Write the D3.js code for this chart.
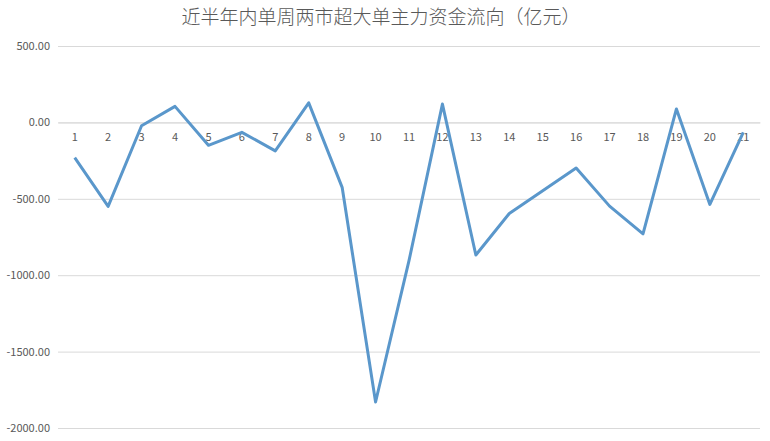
<!DOCTYPE html>
<html>
<head>
<meta charset="utf-8">
<script src="https://cdn.jsdelivr.net/npm/d3@7"></script>
<style>
  body { margin: 0; background: #fff; }
  text { font-family: "Noto Sans CJK SC", "DejaVu Sans", sans-serif; fill: #595959; }
</style>
</head>
<body>
<div id="chart-area"></div>
<script>
// weekly big-order net flow, 100M yuan
const weeks = ['1', '2', '3', '4', '5', '6', '7', '8', '9', '10', '11',
    '12', '13', '14', '15', '16', '17', '18', '19', '20', '21']
const flows = [-230, -550, -22, 105, -150, -65, -186, 128, -425, -1830, -905,
    120, -868, -596, -448, -299, -548, -729, 88, -537, -65]
const yTicks = [500, 0, -500, -1000, -1500, -2000]
const title = '近半年内单周两市超大单主力资金流向（亿元）'

const margin = { left: 58, right: 10, top: 46, bottom: 13 }
const width = 770 - (margin.left + margin.right)
const height = 441 - (margin.top + margin.bottom)

const svg = d3.select('#chart-area').append('svg')
    .attr('width', 770)
    .attr('height', 441)

svg.append('text')
    .attr('x', 381)
    .attr('y', 24)
    .attr('font-size', '19px')
    .attr('font-weight', 300)
    .attr('text-anchor', 'middle')
    .text(title)

const g = svg.append('g')
    .attr('transform', `translate(${margin.left}, ${margin.top})`)

const xScale = d3.scaleBand()
    .domain(weeks)
    .range([0, width])

const yScale = d3.scaleLinear()
    .domain([-2000, 500])
    .range([height, 0])

// gridlines + y labels
const yAxisCall = d3.axisLeft(yScale)
    .tickValues(yTicks)
    .tickSize(-width)
    .tickPadding(8)
    .tickFormat(d => d.toFixed(2))
const yAxis = g.append('g')
    .attr('class', 'y axis')
    .call(yAxisCall)
yAxis.select('.domain').remove()
yAxis.selectAll('line').attr('stroke', '#d9d9d9')
yAxis.selectAll('text')
    .attr('font-size', '11px')
    .attr('fill', '#595959')

// category labels sit under the zero line
const xAxisCall = d3.axisBottom(xScale)
    .tickSize(0)
    .tickPadding(11)
const xAxis = g.append('g')
    .attr('class', 'x axis')
    .attr('transform', `translate(0, ${yScale(0)})`)
    .call(xAxisCall)
xAxis.select('.domain').attr('stroke', '#d9d9d9')
xAxis.selectAll('text')
    .attr('font-size', '11px')
    .attr('fill', '#595959')

const line = d3.line()
    .x((d, i) => xScale(weeks[i]) + xScale.bandwidth() / 2)
    .y(d => yScale(d))

g.append('path')
    .datum(flows)
    .attr('d', line)
    .attr('fill', 'none')
    .attr('stroke', '#5a97cb')
    .attr('stroke-width', 3)
    .attr('stroke-linejoin', 'round')
</script>
</body>
</html>
